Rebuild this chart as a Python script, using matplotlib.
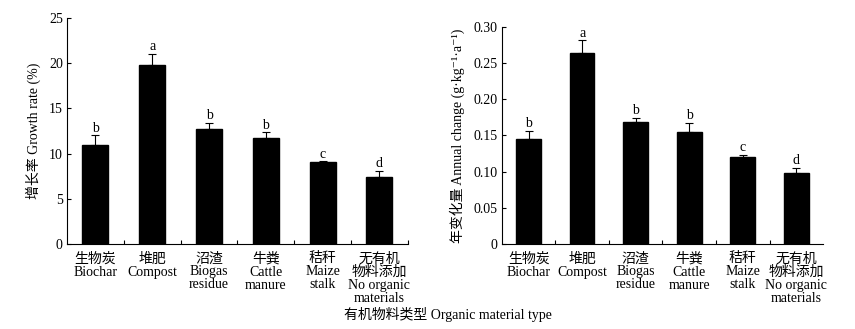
import numpy as np
import matplotlib
matplotlib.use("Agg")
from matplotlib import pyplot as plt
from matplotlib.ticker import FixedLocator, FuncFormatter

plt.rcParams['font.family'] = ['Liberation Serif', 'DejaVu Serif', 'Noto Sans CJK SC']
plt.rcParams['font.size'] = 10

categories = ["生物炭\nBiochar", "堆肥\nCompost", "沼渣\nBiogas\nresidue",
              "牛粪\nCattle\nmanure", "秸秆\nMaize\nstalk", "无有机\n物料添加\nNo organic\nmaterials"]

growth_rate = [10.93, 19.83, 12.70, 11.70, 9.05, 7.46]
growth_err = [1.11, 1.22, 0.67, 0.67, 0.08, 0.63]
growth_letters = ["b", "a", "b", "b", "c", "d"]

annual_change = [0.1445, 0.2635, 0.168, 0.1555, 0.120, 0.0988]
annual_err = [0.012, 0.018, 0.006, 0.0115, 0.0028, 0.0069]
annual_letters = ["b", "a", "b", "b", "c", "d"]


def draw_panel(ax, values, errs, letters, ymax, yticks, ylabel, fmt, end_tick):
    x = np.arange(len(values))
    ax.bar(x, values, width=0.46, color="black", edgecolor="black", zorder=2)
    ax.errorbar(x, values, yerr=[np.zeros(len(errs)), errs], fmt="none",
                ecolor="black", elinewidth=0.8, capsize=3, capthick=0.8, zorder=1)
    for xi, v, e, lab in zip(x, values, errs, letters):
        ax.annotate(lab, (xi, v + e), xytext=(0, 0.5), textcoords="offset points",
                    ha="center", va="bottom", fontsize=10)

    ax.set_xlim(-0.5, len(values) - 0.5)
    ax.set_ylim(0, ymax)
    ax.spines[["top", "right"]].set_visible(False)
    for s in ("left", "bottom"):
        ax.spines[s].set_linewidth(0.8)

    # category names sit under the bars, tick marks go on the boundaries
    ax.set_xticks(x)
    ax.set_xticklabels(categories, linespacing=1.0)
    ax.tick_params(axis="x", which="major", length=0, pad=6)
    bounds = np.arange(0.5, len(values) - 0.5 + (1 if end_tick else 0), 1.0)
    ax.xaxis.set_minor_locator(FixedLocator(bounds))
    ax.tick_params(axis="x", which="minor", direction="in", length=3, width=0.8)

    ax.set_yticks(yticks)
    ax.yaxis.set_major_formatter(FuncFormatter(fmt))
    ax.tick_params(axis="y", direction="in", length=3, width=0.8, pad=3)
    ax.set_ylabel(ylabel, labelpad=6)


fig = plt.figure(figsize=(8.55, 3.29), dpi=100)
ax1 = fig.add_axes([0.0784, 0.2584, 0.3986, 0.6866])
ax2 = fig.add_axes([0.587, 0.2584, 0.3756, 0.6596])

draw_panel(ax1, growth_rate, growth_err, growth_letters, 25, np.arange(0, 26, 5),
           "增长率 Growth rate (%)", lambda v, p: f"{v:.0f}", True)
draw_panel(ax2, annual_change, annual_err, annual_letters, 0.30, np.arange(0, 0.31, 0.05),
           "年变化量 Annual change (g·kg⁻¹·a⁻¹)",
           lambda v, p: "0" if abs(v) < 1e-9 else f"{v:.2f}", False)

fig.text(448 / 855, 0.045, "有机物料类型 Organic material type", ha="center", va="center", fontsize=10)

fig.savefig("out.png", dpi=100)
